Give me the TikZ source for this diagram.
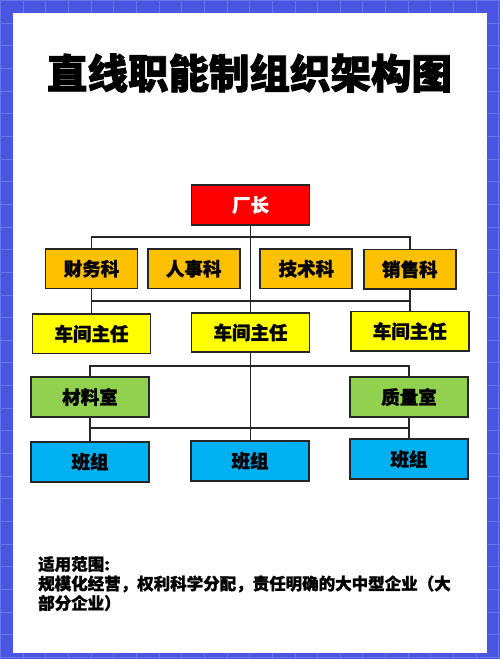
\documentclass[tikz,border=0pt]{standalone}
\usepackage{fontspec}
\newfontfamily\cjk{Noto Sans CJK SC}[BoldFeatures={FakeBold=1.2}]
\newfontfamily\cjkt{Noto Sans CJK SC}[BoldFeatures={FakeBold=2}]
\definecolor{bgblue}{RGB}{74,86,226}
\definecolor{gridblue}{RGB}{104,118,236}
\definecolor{bossred}{RGB}{255,0,0}
\definecolor{deptorange}{RGB}{255,192,0}
\definecolor{mgryellow}{RGB}{255,255,0}
\definecolor{roomgreen}{RGB}{146,208,80}
\definecolor{teamblue}{RGB}{0,176,240}
\tikzset{
  box/.style={draw=black!85, line width=1.8pt, minimum height=39.5pt, inner sep=0pt,
    font=\cjk\bfseries\fontsize{18.5}{20}\selectfont},
  bossbox/.style={box, fill=bossred, text=white, minimum width=118pt, minimum height=40pt},
  deptbox/.style={box, fill=deptorange, minimum width=92pt},
  mgrbox/.style={box, fill=mgryellow, minimum width=118pt},
  roombox/.style={box, fill=roomgreen, minimum width=118pt},
  teambox/.style={box, fill=teamblue, minimum width=118pt, minimum height=40pt},
  conn/.style={draw=black!85, line width=1.8pt}
}
\begin{document}
\begin{tikzpicture}[x=1pt,y=-1pt]
\useasboundingbox (0,0) rectangle (500,659);
\fill[bgblue] (0,0) rectangle (500,659);
\foreach \i in {0,...,22} {
  \draw[gridblue, line width=0.7pt] ({0.4+22.65*\i},0) -- ({0.4+22.65*\i},659);
}
\foreach \j in {0,...,29} {
  \draw[gridblue, line width=0.7pt] (0,{0.4+22.65*\j}) -- (500,{0.4+22.65*\j});
}
\fill[white] (13,13) rectangle (487,653);

\node[font=\cjkt\bfseries\fontsize{40.5}{44}\selectfont] (title) at (249.5,73) {直线职能制组织架构图};

% nodes
\node[bossbox] (boss) at (250.5,205) {厂长};
\node[deptbox] (cw) at (91.5,268.7) {财务科};
\node[deptbox] (rs) at (193.7,268.7) {人事科};
\node[deptbox] (js) at (306.3,268.7) {技术科};
\node[deptbox] (xs) at (409.8,269.3) {销售科};
\node[mgrbox] (mgrL) at (91.5,333.7) {车间主任};
\node[mgrbox] (mgrM) at (250.5,332.5) {车间主任};
\node[mgrbox] (mgrR) at (409.8,331.2) {车间主任};
\node[roombox] (mat) at (90,397) {材料室};
\node[roombox] (qual) at (409,397) {质量室};
\node[teambox] (teamL) at (90,461.7) {班组};
\node[teambox] (teamM) at (250,460.8) {班组};
\node[teambox] (teamR) at (409,459.2) {班组};

% buses
\coordinate (b1) at (250,237.3);
\coordinate (b2) at (250,300.7);
\coordinate (b3) at (250,365.7);
\coordinate (b4) at (250,428);

\begin{scope}[on background layer/.try]
\end{scope}
\draw[conn] (boss.south) -- (boss.south |- mgrM.north);
\draw[conn] (mgrM.south) -- (mgrM.south |- teamM.north);
\draw[conn] (cw.north) |- (b1) -| (xs.north);
\draw[conn] (cw.south) -- (mgrL.north);
\draw[conn] (xs.south) -- (mgrR.north);
\draw[conn] (cw.south |- b2) -- (xs.south |- b2);
\draw[conn] (mat.north) |- (b3) -| (qual.north);
\draw[conn] (mat.south) -- (teamL.north);
\draw[conn] (qual.south) -- (teamR.north);
\draw[conn] (mat.south |- b4) -- (qual.south |- b4);

\node[anchor=north west, align=left, inner sep=0pt,
  font=\cjk\bfseries\fontsize{16.5}{19.5}\selectfont] (note) at (38,556)
  {适用范围:\\规模化经营，权利科学分配，责任明确的大中型企业（大\\部分企业）};
\end{tikzpicture}
\end{document}
